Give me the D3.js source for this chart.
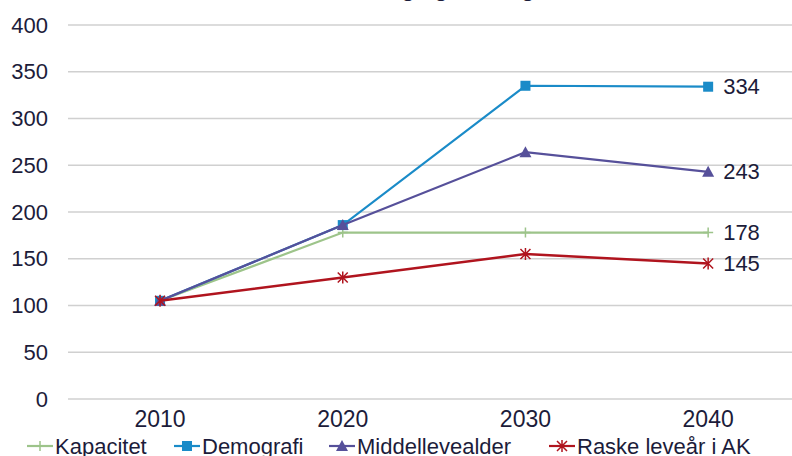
<!DOCTYPE html>
<html>
<head>
<meta charset="utf-8">
<script src="https://cdn.jsdelivr.net/npm/d3@7"></script>
<style>
  body { margin: 0; background: #fff; }
  svg { display: block; font-family: "Liberation Sans", Arial, sans-serif; }
</style>
</head>
<body>
<div id="chart"></div>
<script>
// data
const years = ["2010", "2020", "2030", "2040"];
const kapacitet = [105, 178, 178, 178];
const demografi = [105, 186, 335, 334];
const middellevealder = [105, 186, 264, 243];
const raske = [105, 130, 155, 145];
const yTicks = [0, 50, 100, 150, 200, 250, 300, 350, 400];
const title = "Utvikling og endring i behov";

const series = [
  {name: "Kapacitet", values: kapacitet, color: "#9dc48a", marker: "plus"},
  {name: "Demografi", values: demografi, color: "#1a8bc8", marker: "square"},
  {name: "Middellevealder", values: middellevealder, color: "#56509a", marker: "triangle"},
  {name: "Raske leveår i AK", values: raske, color: "#b0141e", marker: "star"}
];

function chart() {
  const width = 792;
  const height = 456;
  const textColor = "#1c1c3a";

  const svg = d3.create("svg")
    .attr("width", width)
    .attr("height", height);

  const x = d3.scaleBand()
    .domain(years)
    .range([68.7, 799.5])
    .padding(0);
  const cx = d => x(d) + x.bandwidth() / 2;

  const y = d3.scaleLinear()
    .domain([0, 400])
    .range([399, 25]);

  // title, mostly cut off by the top edge
  svg.append("text")
    .attr("x", 470)
    .attr("y", -4)
    .attr("text-anchor", "middle")
    .attr("font-size", 22)
    .attr("font-weight", "bold")
    .attr("fill", textColor)
    .text(title);

  // gridlines
  svg.append("g")
    .selectAll("line")
    .data(yTicks)
    .join("line")
    .attr("x1", 68)
    .attr("x2", width)
    .attr("y1", d => y(d))
    .attr("y2", d => y(d))
    .attr("stroke", "#d0d0d0")
    .attr("stroke-width", 1.5);

  // y axis labels
  const yAxis = svg.append("g")
    .attr("transform", "translate(48,0)")
    .call(d3.axisLeft(y).tickValues(yTicks).tickSize(0).tickPadding(0));
  yAxis.select(".domain").remove();
  yAxis.selectAll("text")
    .attr("font-size", 22)
    .attr("font-family", "Liberation Sans, Arial, sans-serif")
    .attr("fill", textColor);

  // x axis labels
  const xAxis = svg.append("g")
    .attr("transform", "translate(0,411)")
    .call(d3.axisBottom(x).tickSize(0).tickPadding(0));
  xAxis.select(".domain").remove();
  xAxis.selectAll("text")
    .attr("font-size", 23)
    .attr("font-family", "Liberation Sans, Arial, sans-serif")
    .attr("fill", textColor);

  const line = d3.line()
    .x((d, i) => cx(years[i]))
    .y(d => y(d));

  function drawMarker(g, type, color) {
    const s = 5;
    if (type === "square") {
      g.append("rect").attr("x", -s).attr("y", -s).attr("width", 2 * s).attr("height", 2 * s)
        .attr("fill", color);
    } else if (type === "triangle") {
      g.append("path").attr("d", `M0,${-s - 1}L${s + 1},${s}L${-s - 1},${s}Z`).attr("fill", color);
    } else if (type === "plus") {
      g.append("path").attr("d", `M${-s},0H${s}M0,${-s}V${s}`)
        .attr("stroke", color).attr("stroke-width", 1.5);
    } else if (type === "star") {
      g.append("path").attr("d", `M${-s},${-s}L${s},${s}M${-s},${s}L${s},${-s}M0,${-s - 1}V${s + 1}`)
        .attr("stroke", color).attr("stroke-width", 1.5);
    }
  }

  series.forEach(s => {
    svg.append("path")
      .datum(s.values)
      .attr("fill", "none")
      .attr("stroke", s.color)
      .attr("stroke-width", s.marker === "star" ? 2.6 : 2.2)
      .attr("d", line);

    svg.append("g")
      .selectAll("g")
      .data(s.values)
      .join("g")
      .attr("transform", (d, i) => `translate(${cx(years[i])},${y(d)})`)
      .each(function () { drawMarker(d3.select(this), s.marker, s.color); });

    // end label
    const last = s.values[s.values.length - 1];
    svg.append("text")
      .attr("x", cx(years[years.length - 1]) + 15)
      .attr("y", y(last))
      .attr("dy", "0.35em")
      .attr("font-size", 22)
      .attr("fill", textColor)
      .text(last);
  });

  // legend
  const legendX = [27, 174, 329, 549];
  const legend = svg.append("g")
    .selectAll("g")
    .data(series)
    .join("g")
    .attr("transform", (d, i) => `translate(${legendX[i]},446)`);
  legend.append("line")
    .attr("x1", 0).attr("x2", 26)
    .attr("stroke", d => d.color)
    .attr("stroke-width", 2.2);
  legend.append("g")
    .attr("transform", "translate(13,0)")
    .each(function (d) { drawMarker(d3.select(this), d.marker, d.color); });
  legend.append("text")
    .attr("x", 28)
    .attr("dy", "0.35em")
    .attr("font-size", 22)
    .attr("fill", textColor)
    .text(d => d.name);

  return svg.node();
}

document.getElementById("chart").appendChild(chart());
</script>
</body>
</html>
